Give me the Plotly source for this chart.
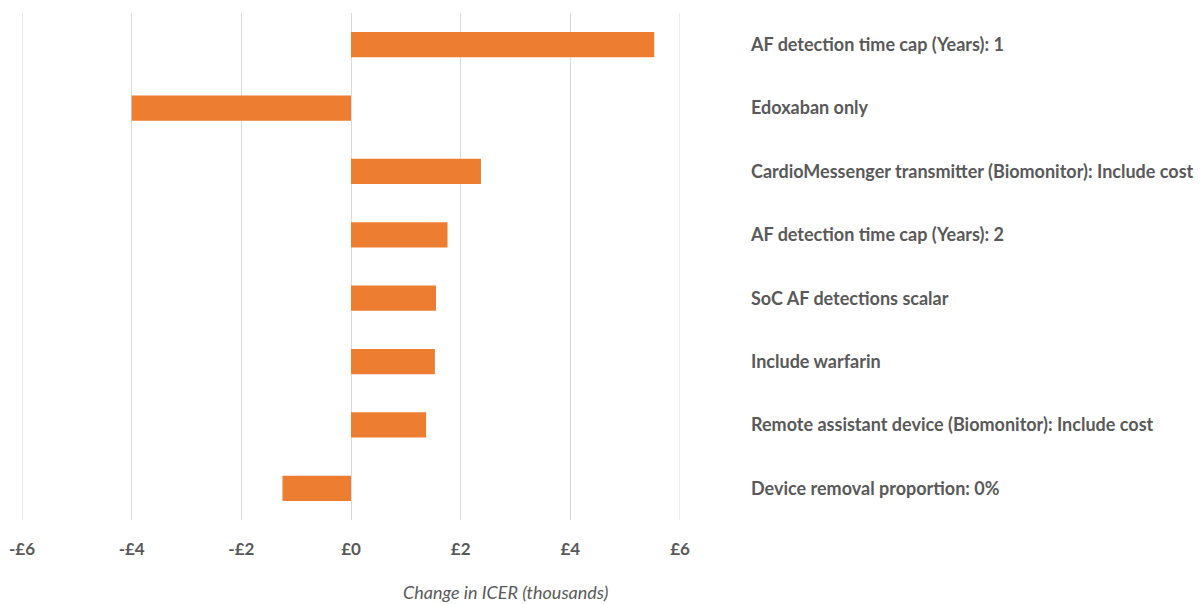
import plotly.graph_objects as go

categories = [
    "AF detection time cap (Years): 1",
    "Edoxaban only",
    "CardioMessenger transmitter (Biomonitor): Include cost",
    "AF detection time cap (Years): 2",
    "SoC AF detections scalar",
    "Include warfarin",
    "Remote assistant device (Biomonitor): Include cost",
    "Device removal proportion: 0%",
]
values = [5.53, -4.0, 2.37, 1.76, 1.55, 1.53, 1.37, -1.25]
tick_vals = [-6, -4, -2, 0, 2, 4, 6]
tick_text = ["-£6", "-£4", "-£2", "£0", "£2", "£4", "£6"]
axis_title = "Change in ICER (thousands)"

text_color = "#595959"
grid_color = "#d9d9d9"
font_family = "Lato, Open Sans, sans-serif"

fig = go.Figure(go.Bar(
    x=values, y=categories, orientation="h",
    marker=dict(color="#ED7D31", line=dict(width=0)),
    width=0.4,
))

# edge gridlines (plotly omits gridlines lying on the plot edges)
for v in (tick_vals[0], tick_vals[-1]):
    fig.add_shape(type="line", xref="x", yref="paper", x0=v, x1=v, y0=0, y1=1,
                  line=dict(color=grid_color, width=1), layer="below")

fig.update_layout(
    width=1203, height=604,
    margin=dict(l=22, r=523, t=13, b=84, autoexpand=False),
    paper_bgcolor="white", plot_bgcolor="white",
    showlegend=False,
    font=dict(family=font_family, color=text_color, size=16),
    xaxis=dict(
        range=[-6, 6], tickvals=tick_vals, ticktext=tick_text,
        showgrid=True, gridcolor=grid_color, gridwidth=1,
        zeroline=False, showline=False, ticks="",
        ticklabelstandoff=17, automargin=False,
        tickfont=dict(size=17, weight="bold", color=text_color),
        fixedrange=True,
    ),
    yaxis=dict(
        categoryorder="array", categoryarray=categories,
        autorange="reversed", side="right",
        showgrid=False, zeroline=False, showline=False, ticks="",
        ticklabelstandoff=70, automargin=False,
        tickfont=dict(size=18, weight="bold", color=text_color),
    ),
    annotations=[dict(
        text=axis_title, xref="paper", yref="paper",
        x=(505 - 22) / 658, y=-(592 - 520) / 507,
        xanchor="center", yanchor="middle", showarrow=False,
        font=dict(size=18, color=text_color, family=font_family, style="italic"),
    )],
)

fig.write_html("out.html")
